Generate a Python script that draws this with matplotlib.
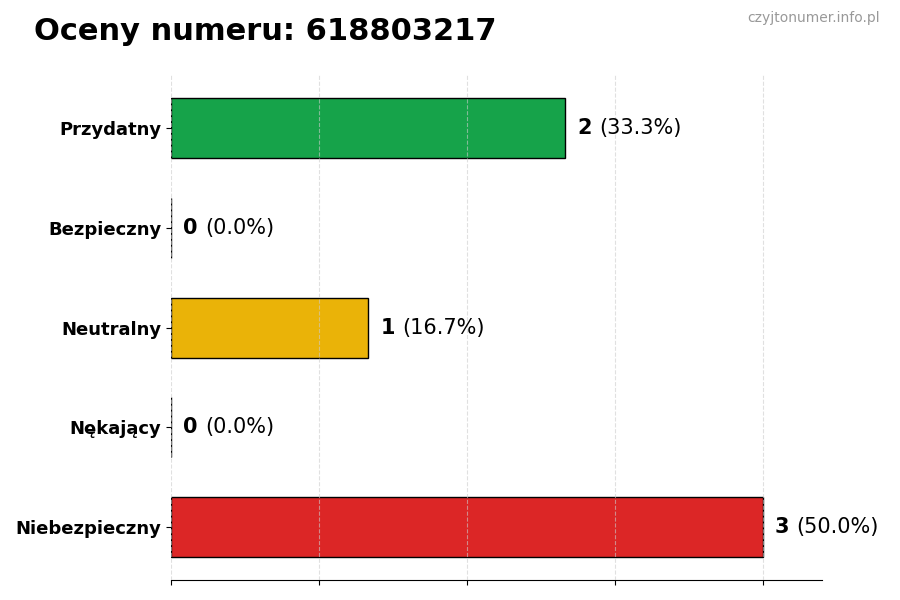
import matplotlib
matplotlib.use("Agg")
import matplotlib.pyplot as plt
import numpy as np

# Dane
kategorie = ["Przydatny", "Bezpieczny", "Neutralny", "Nękający", "Niebezpieczny"]
liczby = [2, 0, 1, 0, 3]
kolory = ["#16a34a", "#9ca3af", "#eab308", "#f97316", "#dc2626"]
tytul = "Oceny numeru: 618803217"
znak_wodny = "czyjtonumer.info.pl"

suma = sum(liczby)
procenty = [100.0 * n / suma for n in liczby]

fig = plt.figure(figsize=(9, 6), dpi=100)
ax = fig.add_axes([0.19, 0.033, 0.723, 0.842])

y = np.arange(len(kategorie))[::-1]
ax.barh(y, liczby, height=0.6, color=kolory, edgecolor="black", linewidth=1, zorder=1)

maks = max(liczby)
ax.set_xlim(0, maks * 1.1)
ax.set_xticks(np.linspace(0, maks, 5))
ax.set_xticklabels([])
ax.grid(axis="x", linestyle="--", color="#cccccc", linewidth=0.8, alpha=0.6, zorder=2)
ax.set_axisbelow(False)

ax.set_yticks(y)
ax.set_yticklabels(kategorie, fontsize=13, fontweight="bold")

for s in ["top", "right", "left"]:
    ax.spines[s].set_visible(False)

for yi, n, p in zip(y, liczby, procenty):
    t1 = ax.annotate(str(n), xy=(n, yi), xytext=(9, 0), textcoords="offset points",
                     va="center", ha="left", fontsize=15, fontweight="bold")
    ax.annotate(f"({p:.1f}%)", xy=(1, 0.5), xycoords=t1, xytext=(5, 0),
                textcoords="offset points", va="center", ha="left", fontsize=15)

fig.text(0.038, 0.948, tytul, fontsize=22, fontweight="bold", va="center", ha="left")
fig.text(0.978, 0.97, znak_wodny, fontsize=10, color="#999999", va="center", ha="right")

fig.savefig("out.png", dpi=100)
